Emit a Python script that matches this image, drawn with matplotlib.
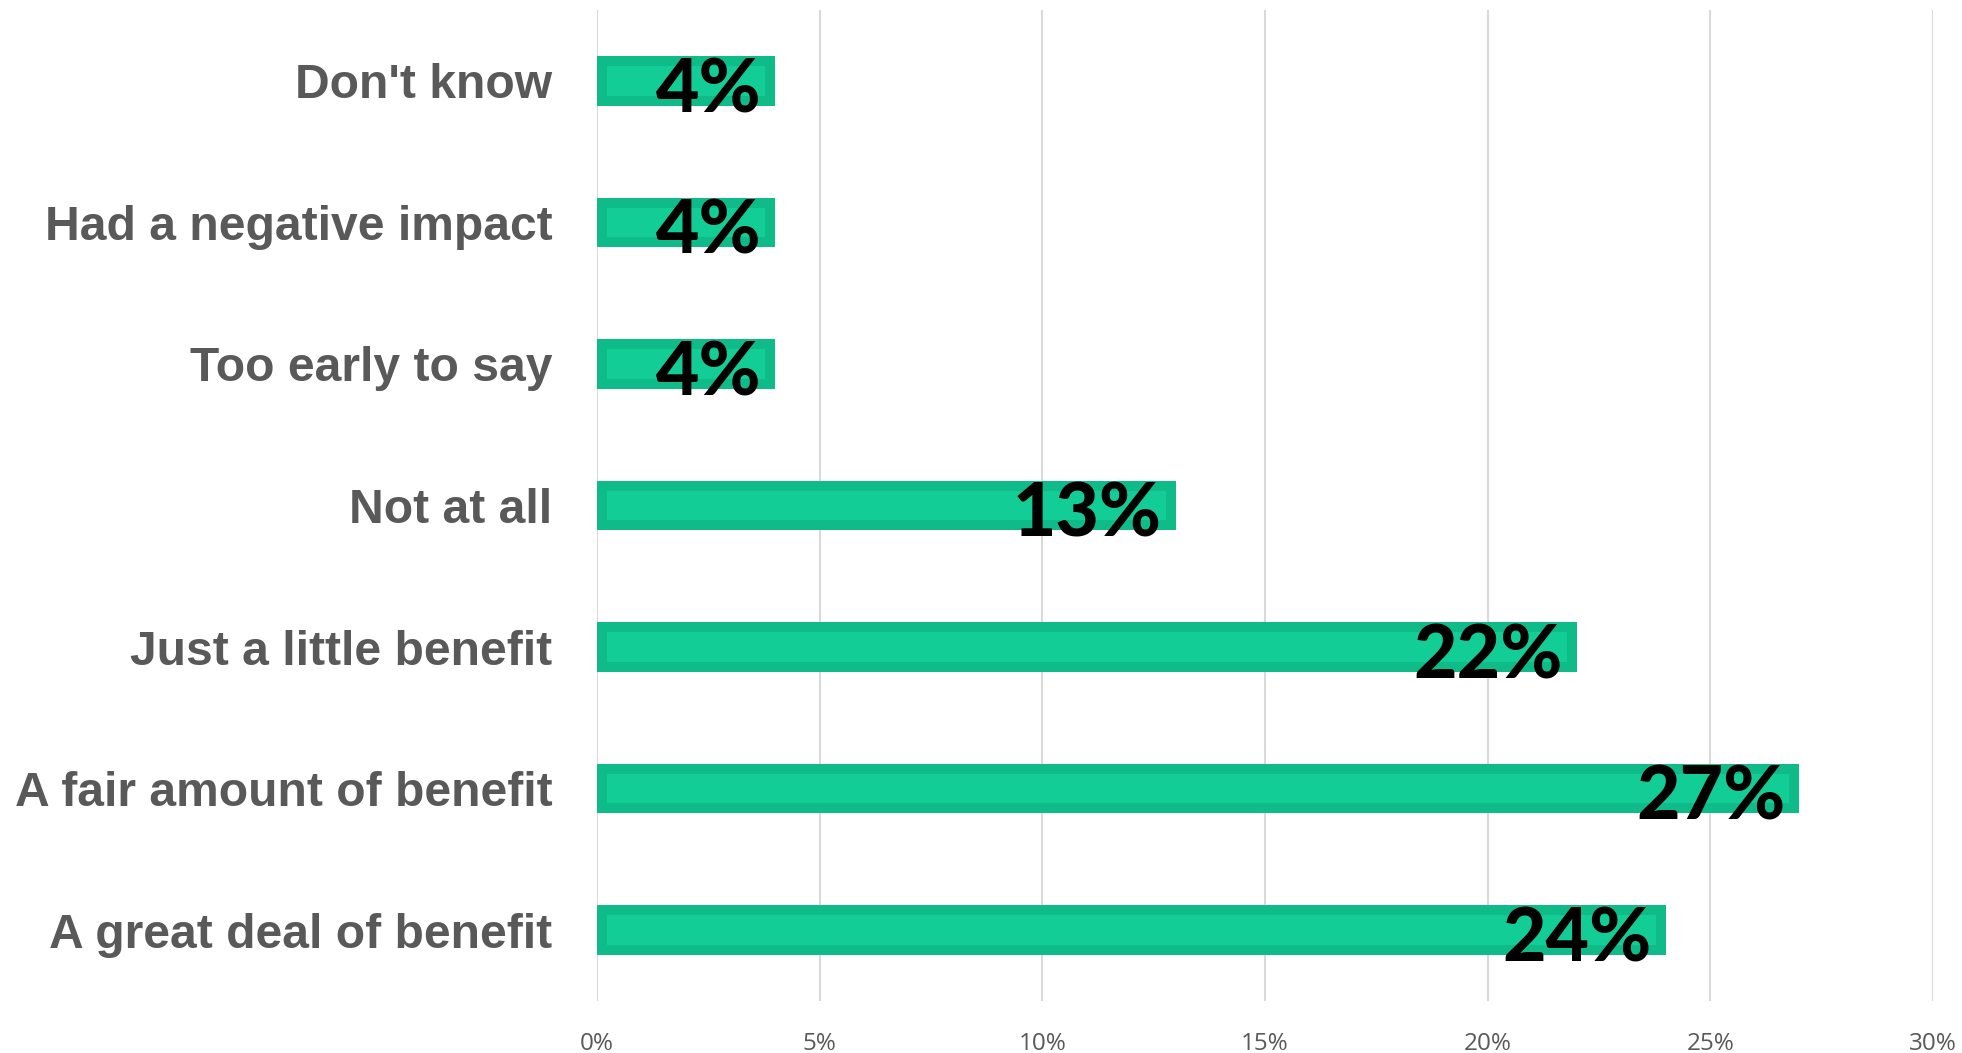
import matplotlib
matplotlib.use("Agg")
import matplotlib.pyplot as plt
from matplotlib.ticker import MultipleLocator, FuncFormatter

categories = ["A great deal of benefit", "A fair amount of benefit", "Just a little benefit",
              "Not at all", "Too early to say", "Had a negative impact", "Don't know"]
values = [24, 27, 22, 13, 4, 4, 4]
value_labels = ["24%", "27%", "22%", "13%", "4%", "4%", "4%"]

fig = plt.figure(figsize=(19.62, 10.53), dpi=100)
ax = fig.add_axes([0.3043, 0.0494, 0.6809, 0.9411])

bars = ax.barh(range(len(categories)), values, height=0.35, color="#13CD97",
               edgecolor="#10BB8A", linewidth=14.4, zorder=3)
for b in bars:
    b.set_clip_path(b)

for i, (v, lab) in enumerate(zip(values, value_labels)):
    ax.annotate(lab, xy=(v, i), xytext=(-10, -7), textcoords="offset points",
                ha="right", va="center", fontsize=54, fontweight="black",
                family=["Lato", "DejaVu Sans"], color="black", zorder=5)

ax.set_xlim(0, 30)
ax.set_ylim(-0.5, 6.5)
ax.xaxis.set_major_locator(MultipleLocator(5))
ax.xaxis.set_major_formatter(FuncFormatter(lambda x, p: f"{int(x)}%"))
ax.grid(axis="x", color="#D9D9D9", linewidth=1.5, zorder=0)
ax.set_axisbelow(True)
for s in ax.spines.values():
    s.set_visible(False)

ax.set_yticks(range(len(categories)))
ax.set_yticklabels(categories, fontsize=34.6, fontweight="bold",
                   family=["Liberation Sans", "DejaVu Sans"], color="#595959")
ax.tick_params(axis="y", length=0, pad=32)
ax.tick_params(axis="x", length=0, pad=22, labelsize=17.5, labelcolor="#595959")
for t in ax.get_xticklabels():
    t.set_family(["Open Sans", "DejaVu Sans"])

fig.savefig("out.png", dpi=100, facecolor="white")
